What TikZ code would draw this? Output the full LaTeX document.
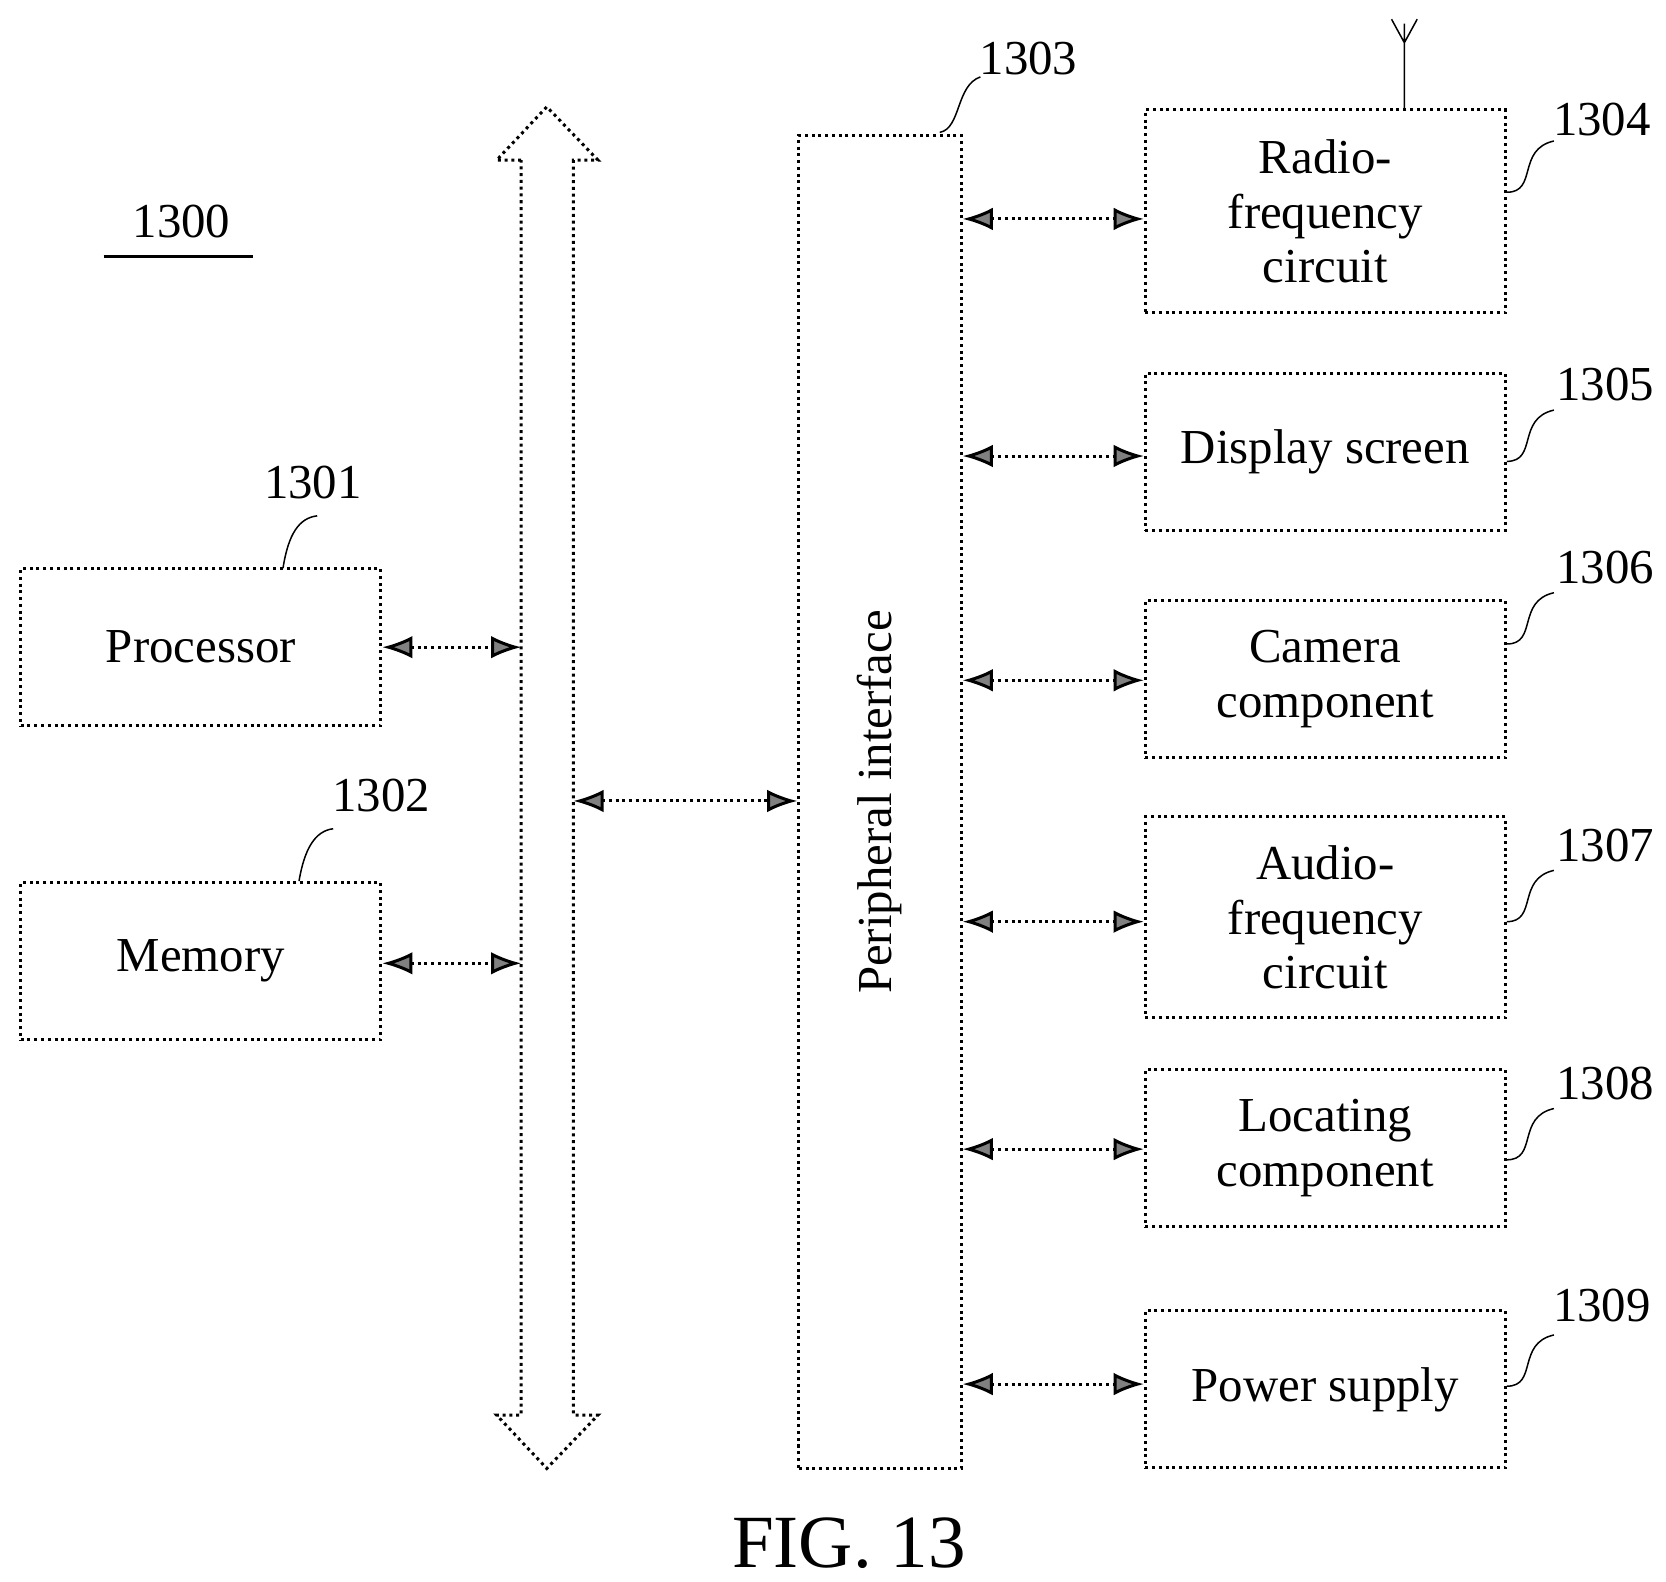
\documentclass[tikz,border=0pt]{standalone}
\usepackage{fontspec}
\setmainfont{Liberation Serif}
\usetikzlibrary{arrows.meta}
\tikzset{
  blk/.style={draw, densely dotted, thick, minimum width=3.37cm, minimum height=1.47cm, align=center, font=\fontsize{13}{14.5}\selectfont, inner sep=0pt},
  lnk/.style={densely dotted, thick, {Latex[length=8pt,width=6pt,fill=gray]}-{Latex[length=8pt,width=6pt,fill=gray]}},
  lead/.style={thin},
  num/.style={font=\fontsize{13}{14}\selectfont, inner sep=1pt}
}
\begin{document}
\begin{tikzpicture}[x=0.01cm, y=-0.01cm]
\useasboundingbox (0,0) rectangle (1560,1481);
% label of the whole device
\node[num] (n1300) at (170,207) {1300};
\draw[thick] (97,240) -- (237,240);
% bus
\draw[densely dotted, thick] (488,150) -- (465,150) -- (512,100) -- (560,150) -- (537,150)
  -- (537,1325) -- (560,1325) -- (512,1375) -- (465,1325) -- (488,1325) -- cycle;
\coordinate (busp) at (488,606);
\coordinate (busm) at (488,902);
\coordinate (busr) at (537,750);
% left blocks
\node[blk] (proc) at (188,606) {Processor};
\node[blk] (mem) at (188,900) {Memory};
\node[num] (n1301) at (293,452) {1301};
\node[num] (n1302) at (357,745) {1302};
\draw[lead] (265,532) .. controls (270,500) and (280,485) .. (297,483);
\draw[lead] (280,825) .. controls (285,795) and (295,778) .. (312,776);
% peripheral interface
\node[draw, densely dotted, thick, minimum width=1.52cm, minimum height=12.48cm, inner sep=0pt] (peri) at (824,751) {};
\node[rotate=90, font=\fontsize{13}{14}\selectfont] at (peri.center) {Peripheral interface};
\node[num] (n1303) at (963,55) {1303};
\draw[lead] (880,124) .. controls (900,120) and (895,80) .. (918,72);
% right blocks
\node[blk, minimum height=1.9cm] (rf) at (1241,198) {Radio-\\frequency\\circuit};
\node[blk] (disp) at (1241,423) {Display screen};
\node[blk] (cam) at (1241,636) {Camera\\component};
\node[blk, minimum height=1.88cm] (aud) at (1241,859) {Audio-\\frequency\\circuit};
\node[blk] (loc) at (1241,1075) {Locating\\component};
\node[blk] (pow) at (1241,1301) {Power supply};
% antenna
\draw[thin] (rf.north -| 1315,0) -- (1315,22) (1303,18) -- (1315,40) -- (1327,18);
% reference numbers
\foreach \ly in {180, 432, 603, 863, 1086, 1298}{
  \draw[lead] (1411,\ly) .. controls (1440,\ly) and (1420,\ly-40) .. (1455,\ly-48);
}
\node[num] at (1500,112) {1304};
\node[num] at (1503,360) {1305};
\node[num] at (1503,531) {1306};
\node[num] at (1503,792) {1307};
\node[num] at (1503,1015) {1308};
\node[num] at (1500,1222) {1309};
% links
\draw[lnk] (proc.east) -- (busp);
\draw[lnk] (mem.east |- busm) -- (busm);
\draw[lnk] (busr) -- (peri.west |- busr);
\foreach \nm/\yy in {rf/205, disp/427, cam/637, aud/863, loc/1076, pow/1296}
  \draw[lnk] (peri.east |- 0,\yy) -- (\nm.west |- 0,\yy);
\node[font=\fontsize{20}{22}\selectfont] (fig) at (795,1445) {FIG. 13};
\end{tikzpicture}
\end{document}
